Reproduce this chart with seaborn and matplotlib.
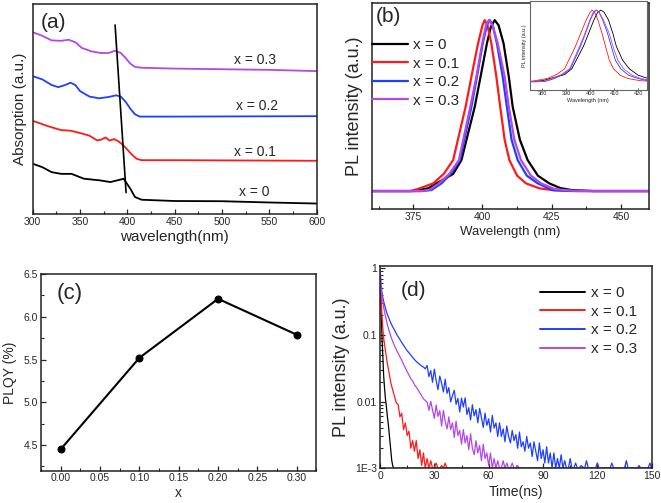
import numpy as np
import matplotlib
matplotlib.use("Agg")
import matplotlib.pyplot as plt
import seaborn as sns
from matplotlib.ticker import MultipleLocator, FixedLocator, NullFormatter

sns.set_style("ticks")
plt.rcParams['font.family'] = ['Liberation Sans', 'DejaVu Sans']
plt.rcParams['xtick.direction'] = 'in'
plt.rcParams['ytick.direction'] = 'in'
plt.rcParams['axes.linewidth'] = 1.1
plt.rcParams['axes.edgecolor'] = '#222222'

etiquetas_x = ['x = 0', 'x = 0.1', 'x = 0.2', 'x = 0.3']
colores = ['black', '#ff1a1a', '#1f3fff', '#b347ea']

# (a) absorcion
abs_x0_nm = [300, 310, 320, 330, 341, 354, 371, 382, 392, 396, 403, 408, 415, 450, 500, 550, 600]
abs_x0 = [2.41, 2.25, 2.01, 1.93, 1.93, 1.70, 1.62, 1.54, 1.65, 1.70, 1.23, 0.83, 0.70, 0.64, 0.63, 0.57, 0.52]
abs_x1_nm = [300, 310, 320, 330, 340, 350, 360, 368, 372, 377, 381, 386, 390, 395, 400, 405, 410, 415, 450, 600]
abs_x1 = [4.45, 4.29, 4.14, 4.01, 3.98, 3.87, 3.74, 3.52, 3.55, 3.66, 3.51, 3.58, 3.49, 3.32, 3.08, 2.83, 2.64, 2.58, 2.58, 2.55]
abs_x2_nm = [300, 310, 320, 327, 333, 340, 345, 350, 360, 370, 380, 388, 393, 398, 403, 408, 413, 450, 600]
abs_x2 = [6.57, 6.42, 6.15, 6.05, 6.13, 6.26, 6.15, 5.86, 5.60, 5.52, 5.58, 5.66, 5.60, 5.36, 5.03, 4.76, 4.65, 4.65, 4.67]
abs_x3_nm = [300, 310, 320, 330, 338, 345, 352, 362, 372, 380, 387, 393, 398, 403, 408, 415, 450, 500, 550, 600]
abs_x3 = [8.66, 8.49, 8.27, 8.25, 8.30, 8.18, 7.91, 7.75, 7.67, 7.67, 7.78, 7.67, 7.44, 7.17, 7.01, 6.97, 6.93, 6.90, 6.87, 6.81]
guia_nm = [387, 398.6]
guia_y = [9.0, 1.04]
etiqueta_a_pos = [(534, 1.07), (535, 2.99), (537, 5.13), (535, 7.36)]

# (b) espectros PL normalizados
pl_x0_nm = [360, 375, 380.4, 383.4, 389.4, 392.4, 397.2, 399.3, 401.6, 403, 404.4, 405.8, 407.6, 409.5, 410.9, 413.5, 416.3, 420, 424.1, 428, 432, 440, 460]
pl_x0 = [0, 0, 0.016, 0.045, 0.10, 0.181, 0.493, 0.669, 0.864, 0.96, 1.0, 0.97, 0.864, 0.669, 0.493, 0.30, 0.181, 0.09, 0.045, 0.018, 0.006, 0, 0]
pl_x1_nm = [360, 374, 377.4, 382.2, 386, 389.4, 393.9, 396, 398.4, 400, 400.8, 401.8, 403.2, 405, 406.4, 408, 409.7, 412.5, 415.7, 420.5, 426, 435, 460]
pl_x1 = [0, 0, 0.016, 0.045, 0.10, 0.181, 0.493, 0.669, 0.864, 0.97, 1.0, 0.97, 0.864, 0.669, 0.493, 0.30, 0.181, 0.09, 0.045, 0.016, 0.004, 0, 0]
pl_x2_nm = [360, 378, 381.6, 385.2, 388.5, 391.8, 396, 398, 400.1, 401.6, 402.6, 403.7, 405.2, 407.3, 408.8, 410.5, 412.7, 416, 419.9, 425.3, 432, 460]
pl_x2 = [0, 0, 0.006, 0.045, 0.10, 0.181, 0.493, 0.669, 0.864, 0.97, 1.0, 0.97, 0.864, 0.669, 0.493, 0.30, 0.181, 0.09, 0.045, 0.006, 0, 0]
pl_x3_nm = [360, 378, 381, 384.3, 388, 391.5, 395.6, 397.8, 399.9, 401.3, 402.3, 403.6, 405.5, 408, 409.5, 411.5, 413.9, 417.5, 421.1, 426, 432, 440, 460]
pl_x3 = [0, 0, 0.008, 0.045, 0.10, 0.181, 0.493, 0.669, 0.864, 0.97, 1.0, 0.97, 0.864, 0.669, 0.493, 0.30, 0.181, 0.09, 0.045, 0.012, 0.002, 0, 0]

# (c) PLQY
x_dopaje = [0.0, 0.1, 0.2, 0.3]
plqy = [4.45, 5.52, 6.21, 5.79]

# (d) decaimiento
t_x0 = [0, 0.4, 0.8, 1.2, 1.6, 2.0, 2.5, 3.0, 3.5, 4.0, 4.5, 5.0, 5.5, 6.0, 6.5, 7.0, 7.5, 8, 150]
dec_x0 = [0.7, 0.35, 0.16, 0.08, 0.045, 0.025, 0.016, 0.011, 0.0085, 0.0062, 0.0048, 0.0035, 0.0025,
          0.0018, 0.0013, 0.0011, 0.001, 0.001, 0.001]
t_x1 = [0, 0.5, 1, 1.5, 2, 3, 4, 5, 6, 7, 8, 9, 10, 11, 12, 13, 14, 15, 16, 17, 18, 19, 20,
        21, 22, 23, 24, 25, 26, 27, 28, 29, 30, 31, 32, 33, 34, 35, 36, 37, 38, 150]
dec_x1 = [0.8, 0.42, 0.22, 0.13, 0.09, 0.058, 0.038, 0.027, 0.019, 0.015, 0.012, 0.0095,
          0.0091, 0.0059, 0.0067, 0.0038, 0.0048, 0.0031, 0.0036, 0.0020, 0.0026, 0.0018, 0.0026,
          0.0014, 0.0019, 0.0011, 0.0017, 0.0010, 0.0014, 0.0010, 0.0013, 0.0010, 0.0010, 0.0012,
          0.0010, 0.0010, 0.0011, 0.0010, 0.0012, 0.0010, 0.0010, 0.001]
t_x2 = [0, 0.5, 1, 1.5, 2, 3, 4, 5, 6, 7, 8, 9, 10, 11, 12, 13, 14, 15, 16, 17, 18, 19, 20, 21, 22, 23, 24, 25,
        26, 27, 28, 29, 30, 31, 32, 33, 34, 35, 36, 37, 38, 39, 40, 41, 42, 43, 44, 45, 46, 47, 48, 49,
        50, 51, 52, 53, 54, 55, 56, 57, 58, 59, 60, 61, 62, 63, 64, 65, 66, 67, 68, 69, 70, 71, 72, 73,
        74, 75, 76, 77, 78, 79, 80, 81, 82, 83, 84, 85, 86, 87, 88, 89, 90, 91, 92, 93, 94, 95, 96, 97,
        98, 99, 100, 101, 102, 103, 104, 105, 106, 107, 108, 109, 110, 111, 113, 114, 115, 119, 120, 121,
        127, 128, 129, 135, 136, 137, 142, 143, 144, 148, 149, 150]
dec_x2 = [1.0, 0.6, 0.45, 0.37, 0.32, 0.25, 0.205, 0.175, 0.15, 0.132, 0.118, 0.104, 0.094, 0.085, 0.077,
          0.07, 0.064, 0.058, 0.054, 0.05, 0.046, 0.043, 0.040, 0.038, 0.036, 0.034, 0.033, 0.031,
          0.0348, 0.0237, 0.0292, 0.0195, 0.0306, 0.0207, 0.0151, 0.0242, 0.019, 0.0139, 0.0217,
          0.0133, 0.0162, 0.0099, 0.0123, 0.0148, 0.0091, 0.0112, 0.0070, 0.0113, 0.0083, 0.0114,
          0.0064, 0.0081, 0.0053, 0.0090, 0.0061, 0.0076, 0.0048, 0.0079, 0.0058, 0.0041, 0.0067,
          0.0044, 0.0055, 0.0035, 0.0062, 0.0040, 0.0048, 0.0030, 0.0048, 0.0030, 0.0039, 0.0025,
          0.0043, 0.0030, 0.0024, 0.0037, 0.0026, 0.0032, 0.0020, 0.0035, 0.0021, 0.0025, 0.0018,
          0.0030, 0.0020, 0.0024, 0.0015, 0.0025, 0.0018, 0.0013, 0.0024, 0.0014, 0.0019, 0.0012,
          0.0021, 0.0012, 0.0017, 0.0010, 0.0017, 0.0010, 0.0014, 0.0010, 0.0016, 0.0010, 0.0013,
          0.0010, 0.0010, 0.0014, 0.0010, 0.0010, 0.0012, 0.0010, 0.0010, 0.0011,
          0.001, 0.0013, 0.001, 0.001, 0.0012, 0.001, 0.001, 0.0012, 0.001, 0.001, 0.0013, 0.001,
          0.001, 0.0011, 0.001, 0.001, 0.0012, 0.001]
t_x3 = [0, 0.5, 1, 1.5, 2, 3, 4, 5, 6, 7, 8, 9, 10, 11, 12, 13, 14, 15, 16, 17, 18, 19, 20, 21, 22, 23, 24,
        25, 26, 27, 28, 29, 30, 31, 32, 33, 34, 35, 36, 37, 38, 39, 40, 41, 42, 43, 44, 45, 46, 47, 48,
        49, 50, 51, 52, 53, 54, 55, 56, 57, 58, 59, 60, 61, 62, 63, 64, 65, 66, 67, 68, 69, 70, 71, 72,
        73, 74, 75, 76, 77, 150]
dec_x3 = [1.0, 0.55, 0.4, 0.33, 0.26, 0.19, 0.145, 0.115, 0.095, 0.08, 0.069, 0.06, 0.053, 0.047, 0.042,
          0.036, 0.032, 0.028, 0.025, 0.022, 0.0205, 0.018, 0.0165, 0.015, 0.0135, 0.0122, 0.011,
          0.0104, 0.0098, 0.0074, 0.0101, 0.0075, 0.0056, 0.0089, 0.0060, 0.0073, 0.0043, 0.0074,
          0.0050, 0.0039, 0.0059, 0.0038, 0.0048, 0.0029, 0.0051, 0.0031, 0.0037, 0.0023, 0.0038,
          0.0024, 0.0031, 0.0019, 0.0033, 0.0020, 0.0016, 0.0026, 0.0017, 0.0022, 0.0013, 0.0023,
          0.0014, 0.0017, 0.0011, 0.0017, 0.0010, 0.0014, 0.0010, 0.0013, 0.0010, 0.0010, 0.0013,
          0.0010, 0.0012, 0.0010, 0.0010, 0.0012, 0.0010, 0.0010, 0.0011, 0.0010, 0.001]

fig = plt.figure(figsize=(6.61, 5.03), dpi=100)
ax_a = fig.add_axes([0.0495, 0.5736, 0.4297, 0.4185])
ax_b = fig.add_axes([0.5623, 0.5845, 0.4191, 0.4095])
ax_c = fig.add_axes([0.062, 0.0642, 0.4168, 0.391])
ax_d = fig.add_axes([0.5749, 0.069, 0.411, 0.4022])
ax_in = fig.add_axes([0.8018, 0.821, 0.1765, 0.177])

def linea(ax, x, y, color, lw, label=None):
    sns.lineplot(x=x, y=y, ax=ax, color=color, lw=lw, label=label,
                 estimator=None, sort=False)

# ---- (a)
series_a = [(abs_x0_nm, abs_x0), (abs_x1_nm, abs_x1), (abs_x2_nm, abs_x2), (abs_x3_nm, abs_x3)]
for (xs, ys), c in zip(series_a, colores):
    linea(ax_a, xs, ys, c, 1.3)
linea(ax_a, guia_nm, guia_y, 'black', 1.2)
for lab, (px, py) in zip(etiquetas_x, etiqueta_a_pos):
    ax_a.text(px, py, lab, fontsize=10, ha='center', va='center')
ax_a.text(0.03, 0.955, '(a)', transform=ax_a.transAxes, fontsize=15, va='top')
ax_a.set_xlim(300, 600)
ax_a.set_ylim(0, 10)
ax_a.set_yticks([])
ax_a.xaxis.set_major_locator(MultipleLocator(50))
ax_a.xaxis.set_minor_locator(MultipleLocator(25))
ax_a.set_xlabel('wavelength(nm)', fontsize=11, labelpad=2)
ax_a.set_ylabel('Absorption (a.u.)', fontsize=11, labelpad=4)

# ---- (b)
series_b = [(pl_x0_nm, pl_x0), (pl_x1_nm, pl_x1), (pl_x2_nm, pl_x2), (pl_x3_nm, pl_x3)]
for (xs, ys), c, lab in zip(series_b, colores, etiquetas_x):
    linea(ax_b, xs, ys, c, 1.6, lab)
    linea(ax_in, xs, ys, c, 0.6)
ax_b.legend(loc='upper left', bbox_to_anchor=(0.0, 0.83), frameon=False, fontsize=11,
            handlelength=2.4, handletextpad=0.3, labelspacing=0.3, borderaxespad=0, borderpad=0)
ax_b.text(0.015, 0.98, '(b)', transform=ax_b.transAxes, fontsize=15, va='top')
ax_b.set_xlim(360, 460)
ax_b.set_ylim(-0.105, 1.1)
ax_b.set_yticks([])
ax_b.xaxis.set_major_locator(MultipleLocator(25))
ax_b.xaxis.set_minor_locator(MultipleLocator(12.5))
ax_b.set_xlabel('Wavelength (nm)', fontsize=9.5, labelpad=3)
ax_b.set_ylabel('PL intensity (a.u.)', fontsize=13, labelpad=6)

ax_in.set_xlim(375, 423.5)
ax_in.set_ylim(-0.116, 1.126)
ax_in.set_yticks([])
ax_in.xaxis.set_major_locator(MultipleLocator(10))
ax_in.tick_params(labelsize=4, length=1.5, width=0.5, pad=1)
ax_in.set_xlabel('Wavelength (nm)', fontsize=4, labelpad=1)
ax_in.set_ylabel('PL intensity (a.u.)', fontsize=4, labelpad=2)
for s in ax_in.spines.values():
    s.set_linewidth(0.8)
    s.set_edgecolor('#666666')

# ---- (c)
sns.lineplot(x=x_dopaje, y=plqy, ax=ax_c, color='black', lw=1.5, marker='o',
             markersize=5, markeredgecolor='black', estimator=None)
ax_c.text(0.055, 0.955, '(c)', transform=ax_c.transAxes, fontsize=16, va='top')
ax_c.set_xlim(-0.025, 0.325)
ax_c.set_ylim(4.2, 6.5)
ax_c.xaxis.set_minor_locator(MultipleLocator(0.025))
ax_c.yaxis.set_major_locator(MultipleLocator(0.5))
ax_c.yaxis.set_minor_locator(MultipleLocator(0.25))
ax_c.set_xticks([0, 0.05, 0.10, 0.15, 0.20, 0.25, 0.30])
ax_c.set_xticklabels(['0.00', '0.05', '0.10', '0.15', '0.20', '0.25', '0.30'])
ax_c.set_xlabel('x', fontsize=10, labelpad=2)
ax_c.set_ylabel('PLQY (%)', fontsize=10, labelpad=5)

# ---- (d)
series_d = [(t_x0, dec_x0), (t_x1, dec_x1), (t_x2, dec_x2), (t_x3, dec_x3)]
for (xs, ys), c, lab in zip(series_d, colores, etiquetas_x):
    linea(ax_d, xs, ys, c, 0.9, lab)
ax_d.set_yscale('log')
ax_d.set_xlim(0, 150)
ax_d.set_ylim(1e-3, 1.08)
ax_d.yaxis.set_major_locator(FixedLocator([1e-3, 1e-2, 1e-1, 1]))
ax_d.set_yticklabels(['1E-3', '0.01', '0.1', '1'])
ax_d.yaxis.set_minor_formatter(NullFormatter())
ax_d.xaxis.set_major_locator(MultipleLocator(30))
ax_d.xaxis.set_minor_locator(MultipleLocator(15))
leg = ax_d.legend(loc='upper left', bbox_to_anchor=(0.59, 0.9), frameon=False, fontsize=11,
                  handlelength=2.9, handletextpad=0.4, labelspacing=0.3, borderaxespad=0, borderpad=0)
for h in leg.get_lines():
    h.set_linewidth(1.4)
ax_d.text(0.075, 0.925, '(d)', transform=ax_d.transAxes, fontsize=15, va='top')
ax_d.set_xlabel('Time(ns)', fontsize=10, labelpad=3)
ax_d.set_ylabel('PL intensity (a.u.)', fontsize=13, labelpad=4)

for ax in [ax_a, ax_b, ax_c, ax_d]:
    ax.tick_params(which='major', labelsize=7.5, length=3.5, width=0.9, top=False, right=False, pad=2)
    ax.tick_params(which='minor', length=2, width=0.8, top=False, right=False)
    for s in ax.spines.values():
        s.set_visible(True)

fig.savefig('out.png', dpi=100)
